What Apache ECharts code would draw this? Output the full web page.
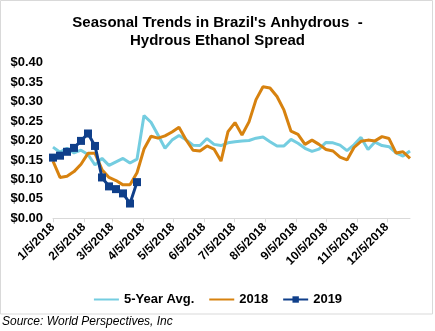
<!DOCTYPE html>
<html>
<head>
<meta charset="utf-8">
<script src="https://cdn.jsdelivr.net/npm/echarts@6/dist/echarts.min.js"></script>
<style>
  html, body { margin: 0; padding: 0; background: #fff; }
  #chart { width: 435px; height: 331px; }
</style>
</head>
<body>
<div id="chart"></div>
<script>
// Weekly observations, first week dated 1/5/2018
const startDate = '1/5/2018';
const seriesNames = ['5-Year Avg.', '2018', '2019'];

const fiveYearAvg = [
  0.183, 0.170, 0.180, 0.168, 0.175, 0.164, 0.137, 0.154, 0.136, 0.145,
  0.154, 0.142, 0.152, 0.264, 0.247, 0.214, 0.180, 0.201, 0.213, 0.202,
  0.188, 0.187, 0.205, 0.190, 0.187, 0.194, 0.197, 0.199, 0.200, 0.206,
  0.209, 0.197, 0.186, 0.186, 0.203, 0.193, 0.180, 0.172, 0.178, 0.195,
  0.194, 0.188, 0.174, 0.189, 0.208, 0.177, 0.196, 0.187, 0.184, 0.168,
  0.160, 0.173
];

const y2018 = [
  0.147, 0.105, 0.108, 0.120, 0.139, 0.167, 0.167, 0.125, 0.105, 0.097,
  0.086, 0.086, 0.117, 0.178, 0.211, 0.206, 0.212, 0.222, 0.234, 0.202,
  0.175, 0.173, 0.186, 0.178, 0.147, 0.223, 0.246, 0.214, 0.248, 0.305,
  0.338, 0.335, 0.313, 0.278, 0.224, 0.216, 0.190, 0.201, 0.190, 0.177,
  0.173, 0.157, 0.150, 0.182, 0.198, 0.201, 0.199, 0.210, 0.205, 0.168,
  0.171, 0.154
];

const y2019 = [
  0.156, 0.161, 0.171, 0.181, 0.199, 0.218, 0.186, 0.105, 0.082, 0.075,
  0.064, 0.038, 0.093
];

const tickLabels = [
  '1/5/2018', '2/5/2018', '3/5/2018', '4/5/2018', '5/5/2018', '6/5/2018',
  '7/5/2018', '8/5/2018', '9/5/2018', '10/5/2018', '11/5/2018', '12/5/2018'
];

// Helpers: convert an M/D/YYYY string into days elapsed since the first week
function toUTC(s) {
  const p = s.split('/').map(Number);
  return Date.UTC(p[2], p[0] - 1, p[1]);
}
const DAY = 86400000;
const origin = toUTC(startDate);
const daysSince = s => Math.round((toUTC(s) - origin) / DAY);

const tickDays = tickLabels.map(daysSince);
const labelByDay = {};
tickDays.forEach((d, i) => { labelByDay[d] = tickLabels[i]; });

// Each weekly point sits 7 days after the previous one
const pairs = arr => arr.map((v, i) => [i * 7, v]);
const lastDay = (fiveYearAvg.length - 1) * 7;

const FONT = 'Liberation Sans, Arial, sans-serif';
const COLORS = ['#74CDE0', '#D7820F', '#0F3F8A'];

const chart = echarts.init(document.getElementById('chart'), null, { renderer: 'canvas' });

chart.setOption({
  animation: false,
  backgroundColor: '#ffffff',
  title: {
    text: "Seasonal Trends in Brazil's Anhydrous  -\nHydrous Ethanol Spread",
    left: 'center',
    top: 9,
    textStyle: {
      fontFamily: FONT,
      fontSize: 15,
      fontWeight: 'bold',
      color: '#000',
      lineHeight: 18
    }
  },
  grid: {
    left: 53,
    right: 25,
    top: 62.7,
    bottom: 112.7,
    containLabel: false,
    outerBoundsMode: 'none'
  },
  legend: {
    // plain line swatches for the two unmarked series, line + square for 2019
    data: [
      { name: seriesNames[0], itemStyle: { opacity: 0 } },
      { name: seriesNames[1], itemStyle: { opacity: 0 } },
      { name: seriesNames[2] }
    ],
    left: 'center',
    top: 288,
    itemWidth: 25,
    itemHeight: 8,
    itemGap: 14,
    textStyle: {
      fontFamily: FONT,
      fontSize: 13,
      fontWeight: 'bold',
      color: '#000'
    }
  },
  xAxis: {
    type: 'value',
    min: 0,
    max: lastDay,
    axisLine: { show: true, lineStyle: { color: '#d9d9d9', width: 1 } },
    axisTick: {
      show: true,
      customValues: tickDays,
      length: 4,
      inside: false,
      lineStyle: { color: '#d9d9d9' }
    },
    axisLabel: {
      customValues: tickDays,
      rotate: 45,
      margin: 7,
      fontFamily: FONT,
      fontSize: 12,
      fontWeight: 'bold',
      color: '#000',
      formatter: v => labelByDay[v] || ''
    },
    splitLine: { show: false }
  },
  yAxis: {
    type: 'value',
    min: 0,
    max: 0.4,
    interval: 0.05,
    axisLine: { show: false },
    axisTick: { show: false },
    splitLine: { show: false },
    axisLabel: {
      margin: 10,
      fontFamily: FONT,
      fontSize: 13,
      fontWeight: 'bold',
      color: '#000',
      formatter: v => '$' + v.toFixed(2)
    }
  },
  series: [
    {
      name: seriesNames[0],
      type: 'line',
      data: pairs(fiveYearAvg),
      symbol: 'none',
      lineStyle: { color: COLORS[0], width: 3 },
      itemStyle: { color: COLORS[0] },
      z: 2
    },
    {
      name: seriesNames[1],
      type: 'line',
      data: pairs(y2018),
      symbol: 'none',
      lineStyle: { color: COLORS[1], width: 3 },
      itemStyle: { color: COLORS[1] },
      z: 3
    },
    {
      name: seriesNames[2],
      type: 'line',
      data: pairs(y2019),
      symbol: 'rect',
      symbolSize: 8,
      lineStyle: { color: COLORS[2], width: 3 },
      itemStyle: { color: COLORS[2] },
      z: 4
    }
  ],
  graphic: [
    {
      type: 'rect',
      shape: { x: 0.5, y: 0.5, width: 432, height: 313.5 },
      style: { fill: 'none', stroke: '#d9d9d9', lineWidth: 1 },
      silent: true,
      z: -1
    },
    {
      type: 'text',
      left: 2,
      top: 316,
      style: {
        text: 'Source: World Perspectives, Inc',
        fontFamily: FONT,
        fontSize: 12,
        fontStyle: 'italic',
        fill: '#000'
      }
    }
  ]
});
</script>
</body>
</html>
